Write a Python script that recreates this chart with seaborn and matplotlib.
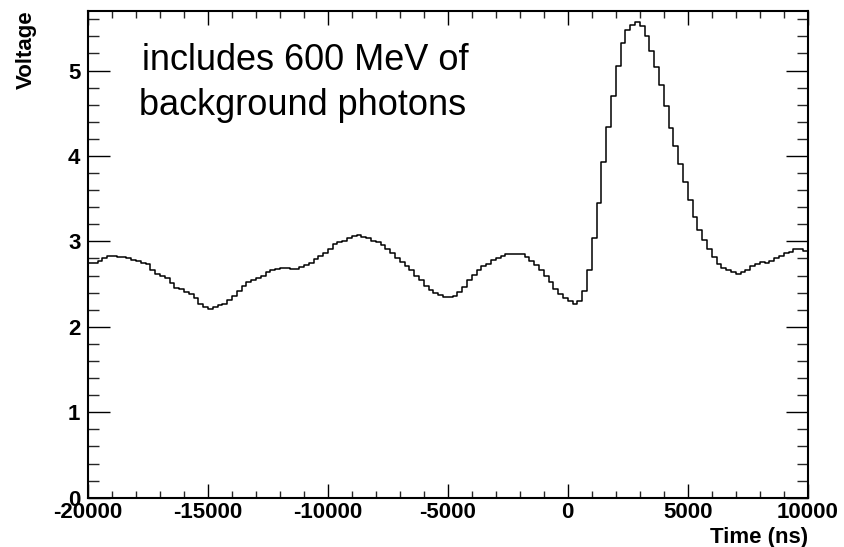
import numpy as np
import pandas as pd
import seaborn as sns
import matplotlib
matplotlib.use("Agg")
import matplotlib.pyplot as plt
from matplotlib.ticker import MultipleLocator

# ---- data ----
t_start = -20000.0
bin_width = 200.0
voltage = [
    2.75, 2.75, 2.77, 2.80, 2.83, 2.83, 2.82, 2.82, 2.80, 2.78,
    2.77, 2.75, 2.73, 2.66, 2.62, 2.60, 2.57, 2.51, 2.46, 2.44,
    2.41, 2.38, 2.34, 2.27, 2.23, 2.21, 2.23, 2.25, 2.27, 2.31,
    2.36, 2.42, 2.48, 2.52, 2.55, 2.57, 2.60, 2.64, 2.67, 2.68,
    2.69, 2.69, 2.68, 2.68, 2.70, 2.72, 2.75, 2.79, 2.83, 2.86,
    2.91, 2.97, 2.99, 3.01, 3.04, 3.06, 3.07, 3.05, 3.04, 3.01,
    2.99, 2.96, 2.91, 2.86, 2.80, 2.76, 2.71, 2.66, 2.60, 2.55,
    2.48, 2.43, 2.40, 2.37, 2.35, 2.35, 2.36, 2.41, 2.47, 2.55,
    2.61, 2.66, 2.71, 2.74, 2.78, 2.80, 2.83, 2.85, 2.85, 2.85,
    2.85, 2.82, 2.77, 2.72, 2.66, 2.60, 2.53, 2.44, 2.39, 2.34,
    2.30, 2.27, 2.30, 2.42, 2.67, 3.04, 3.45, 3.93, 4.34, 4.70,
    5.05, 5.32, 5.47, 5.53, 5.57, 5.52, 5.40, 5.23, 5.04, 4.83,
    4.58, 4.33, 4.12, 3.91, 3.70, 3.48, 3.29, 3.13, 3.02, 2.91,
    2.82, 2.73, 2.69, 2.67, 2.64, 2.62, 2.64, 2.67, 2.71, 2.74,
    2.76, 2.75, 2.77, 2.80, 2.83, 2.86, 2.88, 2.91, 2.91, 2.89,
]
x_ticks = [-20000, -15000, -10000, -5000, 0, 5000, 10000]
y_ticks = [0, 1, 2, 3, 4, 5]
annot_lines = ["includes 600 MeV of", "background photons"]

# ---- build table ----
edges = t_start + bin_width * np.arange(len(voltage) + 1)
df = pd.DataFrame({"time": edges, "voltage": voltage + [voltage[-1]]})

sns.set_theme(style="white")
plt.rcParams["font.family"] = ["Liberation Sans", "DejaVu Sans"]

fig = plt.figure(figsize=(8.44, 5.47), dpi=100)
ax = fig.add_axes([88 / 844, 1 - 497.7 / 547, (807.7 - 88) / 844, (497.7 - 10.7) / 547])

sns.lineplot(data=df, x="time", y="voltage", ax=ax, estimator=None,
             drawstyle="steps-post", color="black", linewidth=1.1)

ax.set_xlim(-20000, 10000)
ax.set_ylim(0, 5.7)

for s in ax.spines.values():
    s.set_visible(True)
    s.set_linewidth(1.5)
    s.set_color("black")

ax.set_xticks(x_ticks)
ax.set_xticklabels([str(v) for v in x_ticks])
ax.set_yticks(y_ticks)
ax.set_yticklabels([str(v) for v in y_ticks])
ax.xaxis.set_minor_locator(MultipleLocator(1000))
ax.yaxis.set_minor_locator(MultipleLocator(0.2))

ax.tick_params(axis="x", which="major", direction="in", length=10.4, width=1.0,
               top=True, bottom=True, labelsize=16, pad=3, colors="black")
ax.tick_params(axis="x", which="minor", direction="in", length=5.0, width=1.0,
               top=True, bottom=True)
ax.tick_params(axis="y", which="major", direction="in", length=15.6, width=1.0,
               left=True, right=True, labelsize=16, pad=5.5, colors="black")
ax.tick_params(axis="y", which="minor", direction="in", length=8.0, width=1.0,
               left=True, right=True)
for lab in ax.get_xticklabels() + ax.get_yticklabels():
    lab.set_fontweight("bold")

ax.set_xlabel("Time (ns)", fontsize=16, fontweight="bold", loc="right", color="black")
ax.set_ylabel("Voltage", fontsize=16, fontweight="bold", loc="top", color="black")
ax.xaxis.set_label_coords(1.0, -0.061)
ax.yaxis.set_label_coords(-0.0709, 1.0)

ax.text((142 - 88) / 719.7, (497.7 - 70) / 487, annot_lines[0], transform=ax.transAxes,
        fontsize=26, ha="left", va="baseline", color="black")
ax.text((139 - 88) / 719.7, (497.7 - 115) / 487, annot_lines[1], transform=ax.transAxes,
        fontsize=26, ha="left", va="baseline", color="black")

fig.savefig("out.png", dpi=100)
